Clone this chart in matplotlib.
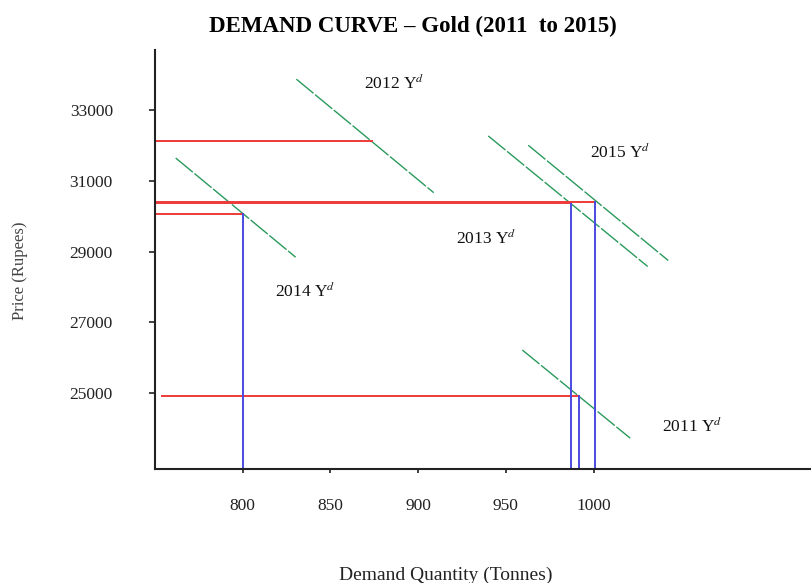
import matplotlib
matplotlib.use("Agg")
import matplotlib.pyplot as plt

plt.rcParams['font.family'] = ['Liberation Serif', 'DejaVu Serif']
plt.rcParams['mathtext.fontset'] = 'stix'

# ---- data ----
years = ["2011", "2012", "2013", "2014", "2015"]
# demand curve segments: (q_start, p_start, q_end, p_end)
curve_q0 = [959.4, 830.6, 940.0, 761.8, 962.8]
curve_p0 = [26212, 33884, 32275, 31650, 32011]
curve_q1 = [1020.9, 908.9, 1030.9, 830.2, 1042.6]
curve_p1 = [23714, 30668, 28577, 28840, 28747]
# equilibrium points (quantity, price)
eq_q = [991.6, 873.5, 987.2, 800.0, 1000.7]
eq_p = [24895, 32130, 30380, 30060, 30410]
# label positions
label_q = [1039, 869, 921.4, 818.2, 997.9]
label_p = [24044, 33770, 29391, 27876, 31804]

xticks = [800, 850, 900, 950, 1000]
yticks = [25000, 27000, 29000, 31000, 33000]
xlim = (750, 1124)
ylim = (22840, 34710)

# ---- figure ----
fig = plt.figure(figsize=(8.11, 5.83), dpi=100)
ax = fig.add_axes([155/811, 1-469/583, 1-155/811, (469-50)/583])
ax.set_xlim(*xlim)
ax.set_ylim(*ylim)

red = '#ee3a3a'
blue = '#4a4ae0'
green = '#2a9a5c'

show_v = [True, False, True, True, True]
for i, y in enumerate(years):
    ax.plot([curve_q0[i], curve_q1[i]], [curve_p0[i], curve_p1[i]],
            color=green, lw=1.0, linestyle=(0, (16, 1.5)))
    ax.plot([xlim[0] if i != 0 else 754, eq_q[i]], [eq_p[i], eq_p[i]],
            color=red, lw=1.4)
    if show_v[i]:
        ax.plot([eq_q[i], eq_q[i]], [ylim[0], eq_p[i]], color=blue, lw=1.4)
    ax.text(label_q[i], label_p[i], y + r" Y$^{d}$", fontsize=12.5,
            ha='left', va='center', color='#111111')

for s in ['top', 'right']:
    ax.spines[s].set_visible(False)
for s in ['left', 'bottom']:
    ax.spines[s].set_linewidth(1.5)
    ax.spines[s].set_color('#222222')

ax.set_xticks(xticks)
ax.set_yticks(yticks)
ax.set_xticklabels([str(v) for v in xticks], fontsize=12.5)
ax.set_yticklabels([str(v) for v in yticks], fontsize=12.5)
ax.tick_params(axis='x', length=3, width=1.2, pad=18, colors='#222222')
ax.tick_params(axis='y', length=4.3, width=1.2, pad=26, colors='#222222')

ax.set_xlabel("Demand Quantity (Tonnes)", fontsize=14, color='#222222', va='center')
ax.set_ylabel("Price (Rupees)", fontsize=12, color='#444444', va='center')
ax.xaxis.set_label_coords((446-155)/(811-155), -(575-469)/(469-50))
ax.yaxis.set_label_coords(-(155-20)/(811-155), (469-271)/(469-50))

fig.text(413/811, 1-26/583, "DEMAND CURVE \u2013 Gold (2011  to 2015)",
         fontsize=16.5, fontweight='bold', ha='center', va='center')

fig.savefig("out.png", dpi=100)
